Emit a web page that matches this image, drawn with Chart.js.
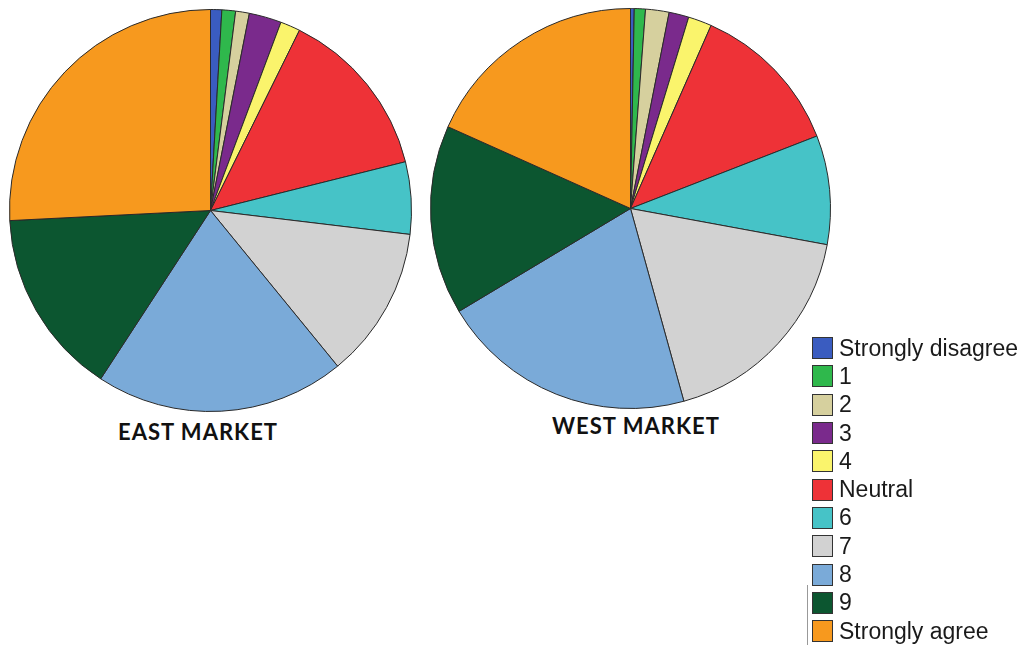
<!DOCTYPE html>
<html>
<head>
<meta charset="utf-8">
<script src="https://cdn.jsdelivr.net/npm/chart.js@4/dist/chart.umd.min.js"></script>
<style>
  body { margin: 0; background: #fff; width: 1025px; height: 645px; position: relative; overflow: hidden; }
  canvas { position: absolute; }
  .mkt { position: absolute; font-family: Lato, "Open Sans", sans-serif; font-weight: bold; font-size: 22px; letter-spacing: 1px; color: #111; white-space: nowrap; }
  #legend { position: absolute; left: 812px; top: 334px; font-family: "Liberation Sans", Arial, sans-serif; font-size: 23px; color: #1a1a1a; }
  .row { height: 28.3px; display: flex; align-items: center; white-space: nowrap; }
  .box { width: 19px; height: 20px; border: 1px solid #333; margin-right: 6px; flex: none; }
  #vline { position: absolute; left: 807px; top: 585px; width: 1px; height: 60px; background: #999; }
</style>
</head>
<body>
<canvas id="eastChart" width="403" height="403" style="left:9px;top:9px"></canvas>
<canvas id="westChart" width="401" height="401" style="left:430px;top:8px"></canvas>
<div class="mkt" style="left:118px;top:418px">EAST MARKET</div>
<div class="mkt" style="left:552px;top:412px">WEST MARKET</div>
<div id="vline"></div>
<div id="legend"></div>
<script>
// rating categories, in the order the slices run clockwise from 12 o'clock
const categories = ["Strongly disagree", "1", "2", "3", "4", "Neutral", "6", "7", "8", "9", "Strongly agree"];
const sliceColors = ["#3a5cc0", "#2fb84c", "#d6d09e", "#7a2a8c", "#faf46c", "#ee3237",
                     "#46c3c7", "#d2d2d2", "#7aaad8", "#0c5630", "#f7991e"];

// share of respondents (%)
const eastValues = [0.9, 1.1, 1.1, 2.6, 1.6, 13.8, 5.8, 12.2, 20.1, 15.0, 25.8];
const westValues = [0.3, 0.9, 1.9, 1.6, 1.9, 12.5, 8.8, 17.8, 20.7, 15.3, 18.3];

function _buildPie(id, values) {
  const ctx = document.getElementById(id);
  return new Chart(ctx.getContext("2d"), {
    type: "pie",
    data: {
      labels: categories,
      datasets: [{
        data: values,
        backgroundColor: sliceColors,
        borderColor: "#2a2a2a",
        borderWidth: 1,
      }],
    },
    options: {
      responsive: false,
      animation: false,
      layout: { padding: 0 },
      plugins: {
        legend: { display: false },
        tooltip: { enabled: false },
      },
    },
  });
}

_buildPie("eastChart", eastValues);
_buildPie("westChart", westValues);

// ── Legend ─────────────────────────────────────────────────────────────────
const legend = document.getElementById("legend");
categories.forEach((cat, i) => {
  const row = document.createElement("div");
  row.className = "row";
  row.innerHTML = `<span class="box" style="background:${sliceColors[i]}"></span><span>${cat}</span>`;
  legend.appendChild(row);
});
</script>
</body>
</html>
